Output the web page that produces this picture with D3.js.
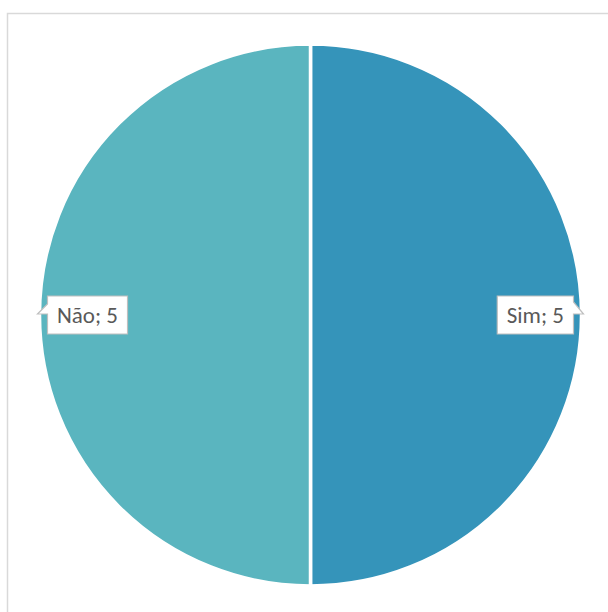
<!DOCTYPE html>
<html>
<head>
<meta charset="utf-8">
<script src="https://cdn.jsdelivr.net/npm/d3@7"></script>
<style>
  html, body { margin: 0; padding: 0; background: #fff; }
  svg { display: block; }
</style>
</head>
<body>
<svg id="chart" width="608" height="612"></svg>
<script>
// Answers and counts
const categories = ["Sim", "Não"];
const values = [5, 5];
const colors = ["#3594BA", "#5AB5BF"];

const svg = d3.select("#chart");
const W = 608, H = 612;

// Chart area frame (left and top edges visible)
svg.append("rect")
  .attr("x", 7.5).attr("y", 13.5)
  .attr("width", W + 10).attr("height", H + 10)
  .attr("fill", "#fff")
  .attr("stroke", "#d9d9d9").attr("stroke-width", 1.5);

const cx = 310.5, cy = 315, r = 271;

const data = categories.map((c, i) => ({ cat: c, value: values[i], color: colors[i] }));
const pie = d3.pie().value(d => d.value).sort(null);
const arcs = pie(data);
const arc = d3.arc().innerRadius(0).outerRadius(r);

const g = svg.append("g").attr("transform", `translate(${cx},${cy})`);

g.selectAll("path.slice")
  .data(arcs)
  .join("path")
  .attr("class", "slice")
  .attr("d", arc)
  .attr("fill", d => d.data.color)
  .attr("stroke", "#fff")
  .attr("stroke-width", 3.5)
  .attr("stroke-linejoin", "round");

// Callout labels pointing to the outer edge of each slice
const edge = d3.arc().innerRadius(r + 2).outerRadius(r + 2);
const boxH = 38;
const fontSize = 23;

arcs.forEach(d => {
  const [px, py] = edge.centroid(d);
  const tipX = cx + px, tipY = cy + py - 1;
  const rightSide = px > 0;
  const text = `${d.data.cat}; ${d.data.value}`;

  const lg = svg.append("g");
  const t = lg.append("text")
    .attr("font-family", "Carlito, Calibri, 'Liberation Sans', sans-serif")
    .attr("font-size", fontSize)
    .attr("fill", "#595959")
    .text(text);
  const tw = t.node().getComputedTextLength();
  const boxW = tw + 19;
  const gap = 10;
  const top = tipY - 18;
  let path;
  if (rightSide) {
    const x1 = tipX - gap, x0 = x1 - boxW;
    path = `M${x0},${top}H${x1}V${top + 6}L${tipX},${tipY}H${x1}V${top + boxH}H${x0}Z`;
    t.attr("x", x0 + 9.5);
  } else {
    const x0 = tipX + gap, x1 = x0 + boxW;
    path = `M${x0},${top}H${x1}V${top + boxH}H${x0}V${tipY}H${tipX}L${x0},${top + 8}Z`;
    t.attr("x", x0 + 9.5);
  }
  t.attr("y", top + boxH / 2 + 8);
  lg.insert("path", "text")
    .attr("d", path)
    .attr("fill", "#fff")
    .attr("stroke", "#bfbfbf")
    .attr("stroke-width", 1.2);
});
</script>
</body>
</html>
